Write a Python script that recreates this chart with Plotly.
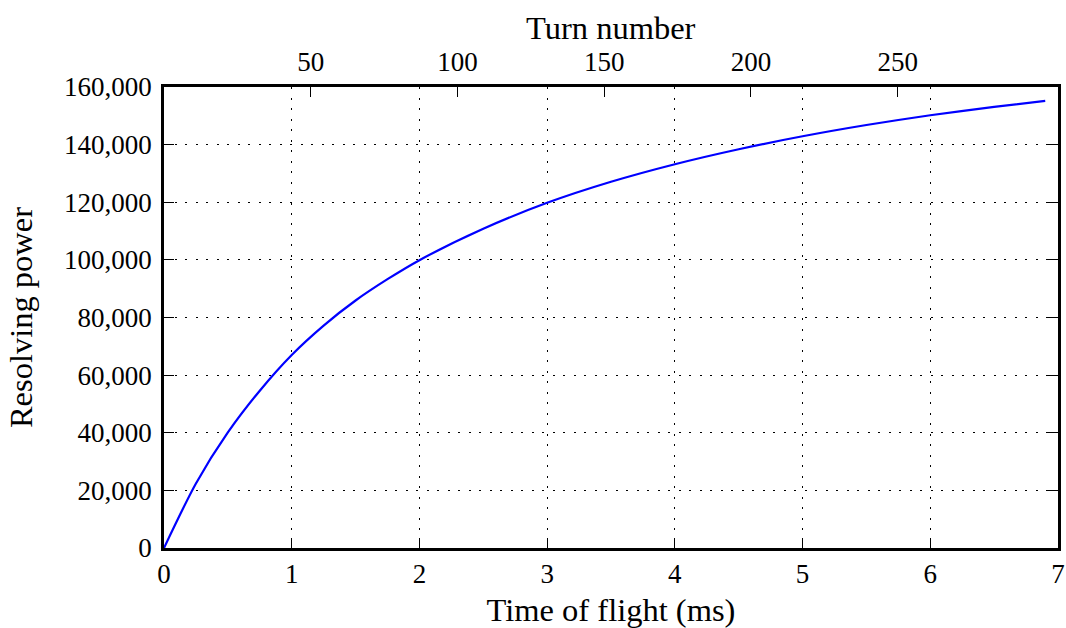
import plotly.graph_objects as go

# Data
time_ms = [0, 0.25, 0.5, 0.75, 1.0, 1.25, 1.5, 1.75, 2.0, 2.5, 3.0, 3.5, 4.0, 4.5, 5.0, 5.5, 6.0, 6.5, 6.9]
resolving_power = [0, 22400, 40100, 54600, 67000, 77200, 85900, 93300, 99900, 110800, 119800, 127100,
                   133200, 138400, 142900, 146800, 150200, 153100, 155200]

x_ticks = [0, 1, 2, 3, 4, 5, 6, 7]
y_ticks = [0, 20000, 40000, 60000, 80000, 100000, 120000, 140000, 160000]
y_tick_text = ["0", "20,000", "40,000", "60,000", "80,000", "100,000", "120,000", "140,000", "160,000"]
turn_ticks = [50, 100, 150, 200, 250]
ms_per_turn = 0.02298

FONT = "Liberation Serif"
FS = 27
TFS = 32.5
GRID_DASH = "2px,8.5px"

fig = go.Figure()
fig.add_trace(go.Scatter(x=time_ms, y=resolving_power, mode="lines",
                         line=dict(color="#0000ff", width=2.2, shape="spline", smoothing=0.8),
                         showlegend=False, hoverinfo="skip", cliponaxis=False))
# invisible trace for top axis
fig.add_trace(go.Scatter(x=[0, 7 / ms_per_turn], y=[None, None], xaxis="x2", mode="lines",
                         showlegend=False, hoverinfo="skip"))

fig.update_layout(
    width=1066, height=628,
    margin=dict(l=164, r=8, t=87, b=80, autoexpand=False),
    paper_bgcolor="white", plot_bgcolor="white",
    font=dict(family=FONT, size=FS, color="black"),
    xaxis=dict(range=[0, 7], tickvals=x_ticks, ticks="inside", ticklen=10, tickwidth=1.2,
               tickcolor="black", showline=True, linewidth=2.5, linecolor="black", mirror=True,
               showgrid=True, gridcolor="black", gridwidth=1, griddash=GRID_DASH,
               zeroline=False, automargin=False, ticklabelstandoff=0,
               title=dict(text="Time of flight (ms)", standoff=14, font=dict(family=FONT, size=TFS)),
               tickfont=dict(family=FONT, size=FS)),
    xaxis2=dict(range=[0, 7 / ms_per_turn], overlaying="x", side="top", tickvals=turn_ticks,
                ticks="inside", ticklen=10, tickwidth=1.2, tickcolor="black", showgrid=False,
                zeroline=False, showline=False, automargin=False, ticklabelstandoff=10,
                tickfont=dict(family=FONT, size=FS)),
    yaxis=dict(range=[0, 160000], tickvals=y_ticks, ticktext=y_tick_text, ticks="inside",
               ticklen=10, tickwidth=1.2, tickcolor="black", showline=True, linewidth=2.5,
               linecolor="black", mirror="ticks", showgrid=True, gridcolor="black", gridwidth=1,
               griddash=GRID_DASH, zeroline=False, automargin=False, ticklabelstandoff=4,
               title=dict(text="Resolving power", standoff=22, font=dict(family=FONT, size=TFS)),
               tickfont=dict(family=FONT, size=FS)),
    annotations=[dict(text="Turn number", xref="paper", yref="paper", x=0.5, y=1,
                      xanchor="center", yanchor="middle", yshift=59, showarrow=False,
                      font=dict(family=FONT, size=TFS, color="black"))],
)

fig.write_html("out.html", post_script="document.body.style.margin='0';",
               config={"displayModeBar": False})
